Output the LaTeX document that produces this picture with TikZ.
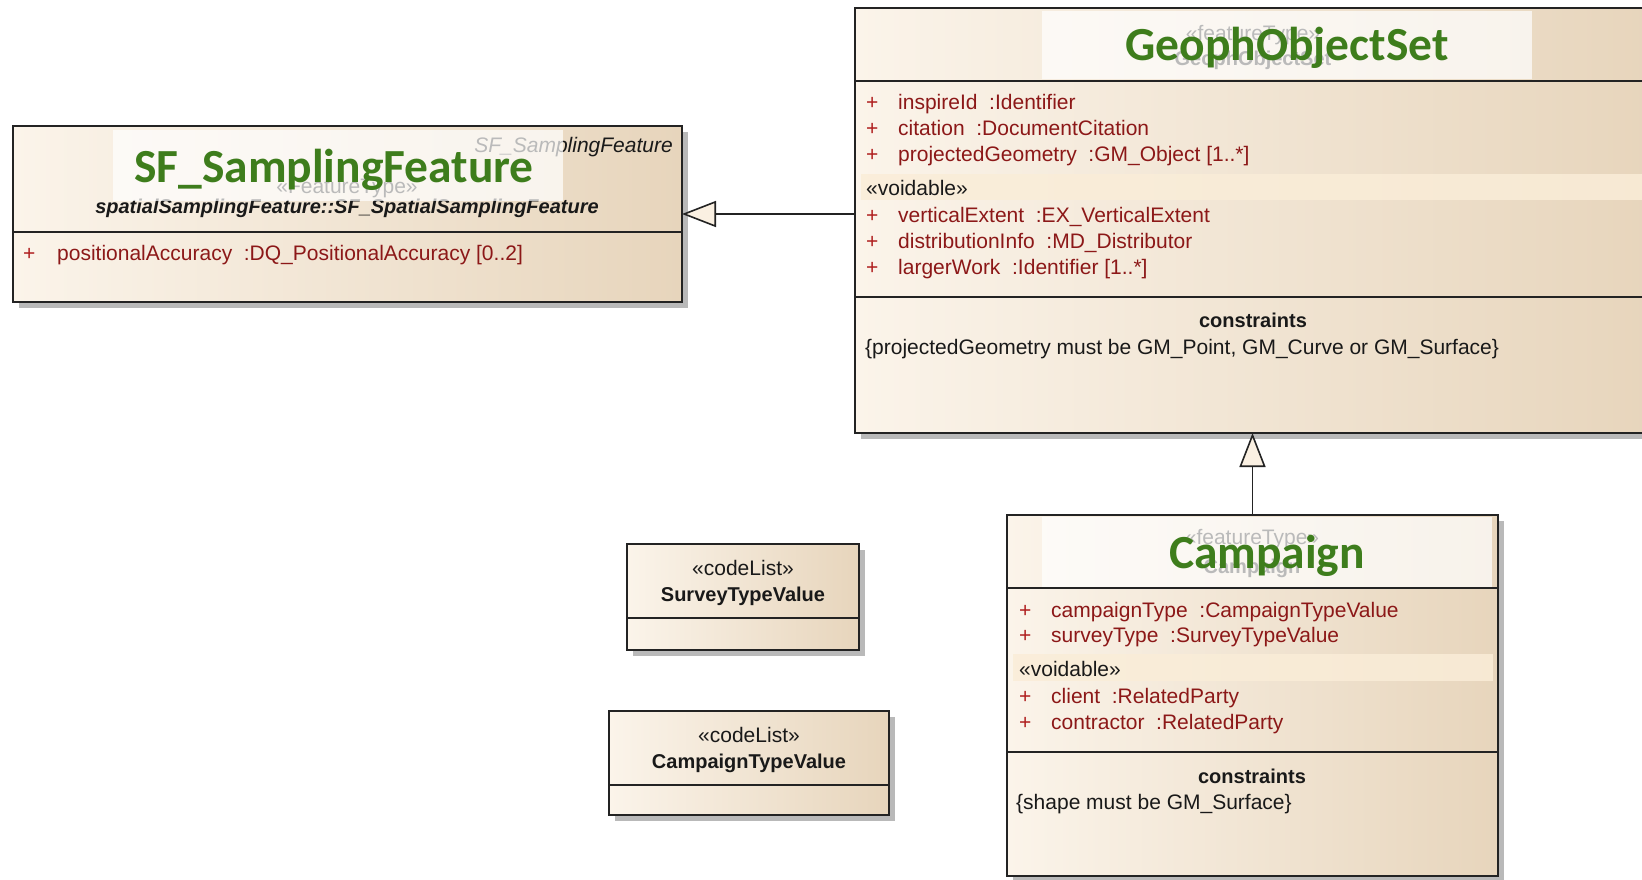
\documentclass[tikz,border=0pt]{standalone}
\usepackage{fontspec}
\setmainfont{Liberation Sans}
\newfontfamily\titlefamily{Carlito}
\usetikzlibrary{arrows.meta}
\definecolor{umlA}{RGB}{251,244,234}
\definecolor{umlB}{RGB}{246,235,219}
\definecolor{umlC}{RGB}{231,213,188}
\definecolor{edgecol}{RGB}{35,35,35}
\definecolor{attrred}{RGB}{140,24,24}
\definecolor{plusred}{RGB}{175,30,30}
\definecolor{titlegreen}{RGB}{62,125,28}
\definecolor{voidband}{RGB}{250,237,216}
\definecolor{shadowgray}{RGB}{185,185,185}
\definecolor{tipfill}{RGB}{250,240,226}
\definecolor{txt}{RGB}{25,25,25}
\newcommand\umlfont{\fontsize{21}{26}\selectfont}
\newcommand\umlbf{\bfseries\fontsize{20}{26}\selectfont}
\newcommand\ttlfont{\titlefamily\bfseries\fontsize{47.5}{50}\selectfont}
\newcommand\umlbox[5]{%
  \fill[shadowgray] (#2+6,#3+6) rectangle (#4+6,#5+6);
  \node[umlboxstyle, minimum width=#4-#2, minimum height=#5-#3] (#1) at (#2,#3) {};}
\tikzset{
  umlboxstyle/.style={draw=edgecol, line width=1.8pt, left color=umlA, middle color=umlB, right color=umlC, anchor=north west, inner sep=0pt, outer sep=0pt},
  divline/.style={draw=edgecol, line width=1.8pt},
  hilite/.style={fill=white, opacity=0.7},
  band/.style={fill=voidband, opacity=0.85},
  attrtxt/.style={anchor=base west, inner sep=0pt, text=attrred, font=\umlfont},
  attrplus/.style={anchor=base west, inner sep=0pt, text=plusred, font=\umlfont},
  plaintxt/.style={anchor=base west, inner sep=0pt, text=txt, font=\umlfont},
  stereo/.style={anchor=base, inner sep=0pt, text=txt, font=\umlfont},
  boldname/.style={anchor=base, inner sep=0pt, text=txt, font=\umlbf},
  bigtitle/.style={anchor=base, inner sep=0pt, text=titlegreen, font=\ttlfont},
  inh/.style={draw=edgecol, line width=1.6pt, -{Triangle[length=34pt, width=26pt, fill=tipfill]}}
}
\begin{document}
\begin{tikzpicture}[x=1pt,y=-1pt]
\useasboundingbox (0,0) rectangle (1642,879);
\clip (0,0) rectangle (1642,879);
\fill[white] (0,0) rectangle (1642,879);

% ---------- SF_SamplingFeature ----------
\umlbox{sf}{13}{126}{682}{302}
\node[anchor=base east, inner sep=0pt, text=txt, font=\umlfont\itshape] (sfpk) at (673,152) {SF\_SamplingFeature};
\node[stereo] (sfst) at (347,193) {«FeatureType»};
\node[boldname, font=\umlbf\itshape] (sfnm) at (347,213) {spatialSamplingFeature::SF\_SpatialSamplingFeature};
\fill[hilite] (113,130) rectangle (563,201);
\node[bigtitle] (sfttl) at (334,182) {SF\_SamplingFeature};
\draw[divline] (13,232) -- (682,232);
\node[attrplus] (sfp1) at (23,260) {+};
\node[attrtxt] (sfa1) at (57,260) {positionalAccuracy\ \ :DQ\_PositionalAccuracy [0..2]};

% ---------- GeophObjectSet ----------
\umlbox{geoph}{855}{8}{1651}{433}
\node[stereo] (gst) at (1253,40) {«featureType»};
\node[boldname] (gnm) at (1253,65) {GeophObjectSet};
\fill[hilite] (1042,11) rectangle (1532,79);
\node[bigtitle] (gttl) at (1287,60) {GeophObjectSet};
\draw[divline] (855,81) -- (1651,81);
\node[attrplus] (gp1) at (866,109) {+};
\node[attrtxt] (ga1) at (898,109) {inspireId\ \ :Identifier};
\node[attrplus] (gp2) at (866,135) {+};
\node[attrtxt] (ga2) at (898,135) {citation\ \ :DocumentCitation};
\node[attrplus] (gp3) at (866,161) {+};
\node[attrtxt] (ga3) at (898,161) {projectedGeometry\ \ :GM\_Object [1..*]};
\fill[band] (861,174) rectangle (1651,200);
\node[plaintxt] (gvd) at (866,195) {«voidable»};
\node[attrplus] (gp4) at (866,222) {+};
\node[attrtxt] (ga4) at (898,222) {verticalExtent\ \ :EX\_VerticalExtent};
\node[attrplus] (gp5) at (866,248) {+};
\node[attrtxt] (ga5) at (898,248) {distributionInfo\ \ :MD\_Distributor};
\node[attrplus] (gp6) at (866,274) {+};
\node[attrtxt] (ga6) at (898,274) {largerWork\ \ :Identifier [1..*]};
\draw[divline] (855,297) -- (1651,297);
\node[boldname] (gcn) at (1253,327) {constraints};
\node[plaintxt] (gct) at (865,354) {\{projectedGeometry must be GM\_Point, GM\_Curve or GM\_Surface\}};

% ---------- Campaign ----------
\umlbox{camp}{1007}{515}{1498}{876}
\node[stereo] (cst) at (1252,544) {«featureType»};
\node[boldname] (cnm) at (1252,573) {Campaign};
\fill[hilite] (1042,517) rectangle (1492,587);
\node[bigtitle] (cttl) at (1267,568) {Campaign};
\draw[divline] (1007,588) -- (1498,588);
\node[attrplus] (cp1) at (1019,617) {+};
\node[attrtxt] (ca1) at (1051,617) {campaignType\ \ :CampaignTypeValue};
\node[attrplus] (cp2) at (1019,642) {+};
\node[attrtxt] (ca2) at (1051,642) {surveyType\ \ :SurveyTypeValue};
\fill[band] (1013,654) rectangle (1493,681);
\node[plaintxt] (cvd) at (1019,676) {«voidable»};
\node[attrplus] (cp3) at (1019,703) {+};
\node[attrtxt] (ca3) at (1051,703) {client\ \ :RelatedParty};
\node[attrplus] (cp4) at (1019,729) {+};
\node[attrtxt] (ca4) at (1051,729) {contractor\ \ :RelatedParty};
\draw[divline] (1007,752) -- (1498,752);
\node[boldname] (ccn) at (1252,783) {constraints};
\node[plaintxt] (cct) at (1016,809) {\{shape must be GM\_Surface\}};

% ---------- SurveyTypeValue ----------
\umlbox{stv}{627}{544}{859}{650}
\node[stereo] (stvs) at (743,575) {«codeList»};
\node[boldname] (stvn) at (743,601) {SurveyTypeValue};
\draw[divline] (627,618) -- (859,618);

% ---------- CampaignTypeValue ----------
\umlbox{ctv}{609}{711}{889}{815}
\node[stereo] (ctvs) at (749,742) {«codeList»};
\node[boldname] (ctvn) at (749,768) {CampaignTypeValue};
\draw[divline] (609,785) -- (889,785);

% ---------- generalisations ----------
\draw[inh] (geoph.west |- sf.east) -- (sf.east);
\draw[inh] (camp.north) -- (camp.north |- geoph.south);
\end{tikzpicture}
\end{document}
